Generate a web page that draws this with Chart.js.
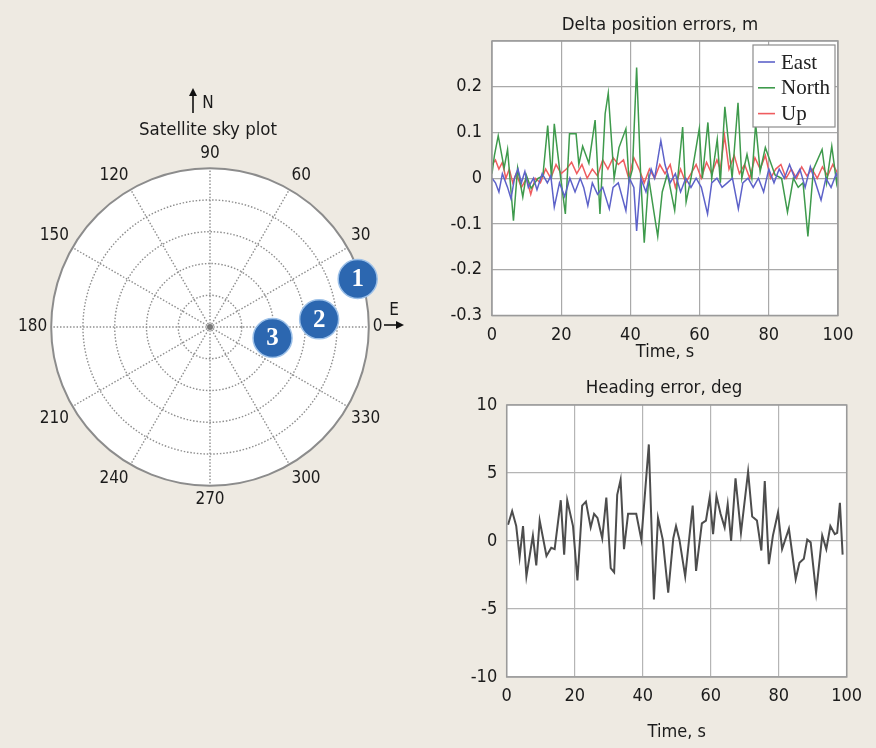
<!DOCTYPE html>
<html>
<head>
<meta charset="utf-8">
<script src="https://cdn.jsdelivr.net/npm/chart.js@4.4.1/dist/chart.umd.min.js"></script>
<style>
  html, body { margin: 0; padding: 0; background: #eeeae2; }
  body { width: 876px; height: 748px; position: relative; overflow: hidden; }
  .box { position: absolute; }
  #sky { left: 0; top: 0; width: 440px; height: 520px; }
  #delta { left: 440px; top: 0; width: 436px; height: 365px; }
  #heading { left: 440px; top: 365px; width: 436px; height: 383px; }
</style>
</head>
<body>
<div class="box" id="sky"><canvas id="skyCanvas"></canvas></div>
<div class="box" id="delta"><canvas id="deltaCanvas"></canvas></div>
<div class="box" id="heading"><canvas id="headingCanvas"></canvas></div>
<script>
// ---- sky plot ----
const azimuthTicks = [0, 30, 60, 90, 120, 150, 180, 210, 240, 270, 300, 330];
const satIds = ['1', '2', '3'];
const satAzimuth = [18, 4, 350];
const satZenith = [88, 62, 36];   // 0 = centre, 90 = outer ring

// ---- delta position errors, m ----
const eastTime = [0, 1, 2, 3, 4.5, 5.5, 6.5, 7.5, 8.5, 9.5, 10.5, 12, 13, 14.5, 16, 17, 18, 19.5, 21, 22.5, 24, 25.5, 26.5, 27.7, 29, 30.5, 32, 33.9, 35, 36.5, 38.7, 39.7, 41, 41.8, 43, 44.5, 46, 47, 48.8, 50, 51.5, 53, 54.5, 56, 57.5, 59, 60.5, 62.3, 63.5, 65, 66.5, 68, 69.5, 71.2, 72.5, 74, 75.5, 77, 78.5, 80, 81.5, 83, 84.5, 86, 87.5, 89, 90.5, 92, 93.5, 95.1, 96.5, 98, 99.5, 100];
const eastErr = [0, -0.01, -0.03, 0.01, -0.02, -0.045, 0, 0.02, -0.01, 0.015, -0.02, 0, -0.025, 0.01, -0.01, 0.005, -0.063, -0.01, -0.04, 0, -0.03, 0, -0.02, -0.06, -0.01, -0.035, -0.02, -0.067, -0.02, -0.01, -0.071, 0, -0.02, -0.115, 0, -0.03, 0.02, 0, 0.082, 0.03, -0.01, 0.01, -0.03, 0, -0.02, 0, -0.02, -0.078, -0.01, 0, -0.02, -0.01, 0, -0.067, -0.01, 0, -0.02, 0, -0.03, 0.02, -0.01, 0.02, 0, 0.03, 0, 0.02, -0.02, 0.025, -0.01, -0.048, 0, -0.02, 0.01, 0];
const northTime = [0, 0.7, 1.8, 3.5, 4.5, 6.2, 7.4, 8.9, 9.9, 11.3, 13.3, 14.7, 16.1, 17.2, 18, 19.6, 21.2, 22.4, 24.3, 25.1, 26.2, 28, 29.8, 31.2, 32.7, 33.6, 35.3, 36.7, 38.7, 39.6, 40.6, 41.8, 43, 44, 45.3, 46.8, 47.9, 49.2, 50.7, 52.8, 55.1, 56.1, 57.5, 59.9, 60.8, 62.4, 63.5, 65.1, 66, 67.3, 69.4, 71.1, 72.2, 73.7, 75.1, 76.2, 77.5, 79, 80.4, 81.8, 83.7, 85.4, 87.1, 88.5, 89.9, 91.3, 92.9, 95.4, 96.7, 98.2, 99.6, 100];
const northErr = [0.01, 0.05, 0.093, 0.022, 0.063, -0.093, 0.022, -0.041, 0.007, -0.022, 0, 0.005, 0.115, 0, 0.119, 0.015, -0.078, 0.097, 0.097, 0.03, 0.07, 0.033, 0.127, -0.078, 0.141, 0.186, 0, 0.067, 0.108, -0.007, 0.02, 0.242, 0, -0.141, 0, -0.074, -0.127, -0.03, 0.01, -0.07, 0.112, -0.052, 0, 0.108, 0, 0.122, 0, 0.085, -0.01, 0.156, 0, 0.165, 0, 0.052, 0, 0.119, 0.015, 0.067, 0.037, 0.007, 0, -0.074, 0, -0.02, -0.01, -0.127, 0.02, 0.063, -0.01, 0.07, -0.01, 0.01];
const upTime = [0, 1, 2, 3, 4, 5, 6, 7, 8.5, 10, 11.2, 12.5, 14, 15.5, 17, 18.5, 20, 21.5, 23, 24.5, 26, 27.5, 29, 30.5, 32, 33.5, 35, 36.5, 38, 39.5, 41, 42.5, 44, 45.5, 47, 48.5, 50, 51.5, 53, 54.5, 56, 57.5, 59, 60.5, 62, 63.5, 65, 66, 67.2, 68.5, 70, 71.5, 73, 74.5, 76, 77.5, 79, 80.5, 82, 83.5, 85, 86.5, 88, 89.5, 91, 92.5, 94, 95.5, 97, 98.5, 100];
const upErr = [0.03, 0.04, 0.02, 0.035, 0, 0.02, -0.01, 0.01, -0.02, 0, -0.035, 0, -0.01, 0.02, 0, 0.03, 0.01, 0.02, 0.035, 0.01, 0.03, 0, 0.02, 0.005, 0.04, 0.02, 0.045, 0.03, 0.04, 0, 0.045, 0.02, -0.01, 0.02, 0, 0.03, 0.01, 0.03, -0.02, 0.02, -0.01, 0.01, 0.03, 0, 0.035, 0.01, 0.04, 0.02, 0.093, 0.02, 0.05, 0.01, 0.03, 0, 0.045, 0.02, 0.05, 0, 0.02, 0.03, 0, 0.02, 0, 0.025, 0.005, 0.02, 0, 0.025, 0.005, 0.03, 0.01];

// ---- heading error, deg ----
const headingTime = [0.4, 1.6, 2.8, 3.8, 4.8, 5.8, 7.7, 8.7, 9.7, 11.7, 13.1, 14.1, 15.9, 16.9, 17.8, 19.5, 20.8, 22.2, 23.3, 24.7, 25.7, 26.7, 28.1, 29.3, 30.6, 31.6, 32.5, 33.5, 34.5, 35.7, 38.1, 39.6, 41.8, 43.3, 44.5, 45.9, 47.5, 49, 49.8, 50.8, 52.5, 54.7, 55.7, 57.4, 58.6, 59.7, 60.7, 61.7, 62.9, 64.1, 65, 66, 67.3, 68.9, 71, 72.2, 73.6, 74.9, 75.9, 77.1, 78.3, 79.8, 81, 83, 85, 86.1, 87.4, 88.4, 89.4, 91, 92.8, 94, 95.2, 96.5, 97.2, 98, 98.8];
const headingErr = [1.2, 2.2, 1.1, -1.2, 1.1, -2.6, 0.4, -1.8, 1.5, -1.1, -0.5, -0.6, 3, -1, 3, 1.1, -2.9, 2.6, 2.9, 1, 2, 1.7, 0.2, 3.2, -2, -2.3, 3.4, 4.5, -0.6, 2, 2, 0.1, 7.1, -4.3, 1.7, 0.1, -3.8, 0.2, 1.1, 0.1, -2.6, 2.6, -2.2, 1.3, 1.5, 3.2, 0.5, 3.3, 2, 1, 2.7, 0, 4.6, 0.6, 5.1, 1.8, 1.5, -0.7, 4.4, -1.7, 0.4, 2.1, -0.6, 0.9, -2.8, -1.6, -1.3, 0.1, -0.1, -3.8, 0.4, -0.6, 1.1, 0.5, 0.6, 2.8, -1];

const FONT = "'DejaVu Sans Condensed', 'Liberation Sans Narrow', 'Roboto Condensed', 'DejaVu Sans', sans-serif";
Chart.defaults.font.family = FONT;
Chart.defaults.font.size = 18;
Chart.defaults.color = '#1b1b1b';
Chart.defaults.responsive = true;
Chart.defaults.maintainAspectRatio = false;
Chart.defaults.animation = false;

const toPoints = (xs, ys) => xs.map((x, i) => ({ x: x, y: ys[i] }));

// white plot area + grey frame
const plotFrame = {
    id: 'plotFrame',
    beforeDraw(chart) {
        const { ctx, chartArea: a } = chart;
        ctx.save();
        ctx.fillStyle = '#ffffff';
        ctx.fillRect(a.left, a.top, a.width, a.height);
        ctx.restore();
    },
    afterDraw(chart) {
        const { ctx, chartArea: a } = chart;
        ctx.save();
        ctx.strokeStyle = '#9a9a9a';
        ctx.lineWidth = 1.5;
        ctx.strokeRect(a.left, a.top, a.width, a.height);
        ctx.restore();
    }
};

// plot title centred over the figure panel rather than the plot box
const panelTitle = {
    id: 'panelTitle',
    afterDraw(chart, args, opts) {
        const { ctx } = chart;
        ctx.save();
        ctx.font = '18.5px ' + FONT;
        ctx.fillStyle = '#1b1b1b';
        ctx.textAlign = 'center';
        ctx.textBaseline = 'middle';
        ctx.fillText(opts.text, opts.x, opts.y);
        ctx.restore();
    }
};

// matlab-like legend box in the upper right corner of the plot
const boxLegend = {
    id: 'boxLegend',
    afterDatasetsDraw(chart) {
        const { ctx, chartArea: a } = chart;
        const w = 82, h = 82;
        const x0 = a.right - 3 - w, y0 = a.top + 4;
        ctx.save();
        ctx.fillStyle = '#ffffff';
        ctx.fillRect(x0, y0, w, h);
        ctx.strokeStyle = '#8c8c8c';
        ctx.lineWidth = 1.2;
        ctx.strokeRect(x0, y0, w, h);
        ctx.font = "21px 'Liberation Serif', 'DejaVu Serif', serif";
        ctx.textBaseline = 'middle';
        chart.data.datasets.forEach((ds, i) => {
            const y = y0 + 17 + i * 25.8;
            ctx.strokeStyle = ds.borderColor;
            ctx.lineWidth = 1.6;
            ctx.beginPath();
            ctx.moveTo(x0 + 5, y);
            ctx.lineTo(x0 + 22, y);
            ctx.stroke();
            ctx.fillStyle = '#222';
            ctx.fillText(ds.label, x0 + 28, y + 1);
        });
        ctx.restore();
    }
};

// title, centre dot, N / E arrows and satellite numbers
const skyDecor = {
    id: 'skyDecor',
    afterDatasetsDraw(chart) {
        const { ctx } = chart;
        const r = chart.scales.r;
        const cx = r.xCenter, cy = r.yCenter;
        ctx.save();
        ctx.fillStyle = '#777';
        ctx.beginPath();
        ctx.arc(cx, cy, 3, 0, Math.PI * 2);
        ctx.fill();

        ctx.fillStyle = '#ffffff';
        ctx.font = "bold 25px 'Liberation Serif', 'DejaVu Serif', serif";
        ctx.textAlign = 'center';
        ctx.textBaseline = 'middle';
        const meta = chart.getDatasetMeta(0);
        meta.data.forEach((pt, i) => {
            if (pt.skip || skyIdAt[i] === undefined) return;
            ctx.fillText(skyIdAt[i], pt.x, pt.y + 1);
        });

        // arrows
        ctx.strokeStyle = '#111';
        ctx.fillStyle = '#111';
        ctx.lineWidth = 1.6;
        const ax = cx - 17;
        ctx.beginPath(); ctx.moveTo(ax, 113); ctx.lineTo(ax, 93); ctx.stroke();
        ctx.beginPath(); ctx.moveTo(ax, 88); ctx.lineTo(ax - 4, 96); ctx.lineTo(ax + 4, 96); ctx.closePath(); ctx.fill();
        const ey = cy - 2;
        ctx.beginPath(); ctx.moveTo(cx + 174, ey); ctx.lineTo(cx + 188, ey); ctx.stroke();
        ctx.beginPath(); ctx.moveTo(cx + 194, ey); ctx.lineTo(cx + 186, ey - 4); ctx.lineTo(cx + 186, ey + 4); ctx.closePath(); ctx.fill();
        ctx.fillStyle = '#1b1b1b';
        ctx.font = '17px ' + FONT;
        ctx.fillText('N', cx - 2, 104);
        ctx.fillText('E', cx + 184, cy - 16);
        ctx.font = '18.5px ' + FONT;
        ctx.fillText('Satellite sky plot', cx - 2, 130);
        ctx.restore();
    }
};

// radar labels: one per degree, index 0 at the top (90 deg), clockwise
const skyLabels = Array.from({ length: 360 }, (_, i) => (450 - i) % 360);
const skyData = skyLabels.map(() => null);
const skyIdAt = {};
satAzimuth.forEach((az, k) => {
    const idx = (450 - Math.round(az)) % 360;
    skyData[idx] = satZenith[k];
    skyIdAt[idx] = satIds[k];
});

new Chart(document.getElementById('skyCanvas'), {
    type: 'radar',
    data: {
        labels: skyLabels,
        datasets: [{
            label: 'Satellites',
            data: skyData,
            showLine: false,
            fill: false,
            borderWidth: 0,
            pointRadius: 19.5,
            pointBackgroundColor: '#2c67b0',
            pointBorderColor: '#9cc0e8',
            pointBorderWidth: 1.5
        }]
    },
    options: {
        layout: { padding: { left: 9, right: 47, top: 135.5, bottom: 0.5 } },
        plugins: {
            legend: { display: false },
            tooltip: { enabled: false },
            title: { display: false }
        },
        scales: {
            r: {
                min: 0,
                max: 90,
                backgroundColor: '#ffffff',
                ticks: { stepSize: 18, display: false },
                grid: {
                    circular: true,
                    color: ctx => ctx.tick.value === 90 ? '#8c8c8c' : '#8e8e8e',
                    lineWidth: ctx => ctx.tick.value === 90 ? 2 : 1.4
                },
                border: { dash: ctx => (ctx.tick && ctx.tick.value === 90) ? [] : [1.5, 1.8] },
                angleLines: {
                    color: '#8e8e8e',
                    lineWidth: ctx => ctx.label ? 1.4 : 0,
                    borderDash: [1.5, 1.8]
                },
                pointLabels: {
                    padding: 4,
                    font: { size: 17 },
                    color: '#1b1b1b',
                    callback: label => azimuthTicks.includes(label) ? String(label) : ''
                }
            }
        }
    },
    plugins: [skyDecor]
});

const axisStyle = (gridColor) => ({
    type: 'linear',
    grid: { color: gridColor, lineWidth: 1.2, drawTicks: false },
    border: { display: false }
});

new Chart(document.getElementById('deltaCanvas'), {
    type: 'line',
    data: {
        datasets: [
            { label: 'East', data: toPoints(eastTime, eastErr), borderColor: '#5d62c9', borderWidth: 1.5, pointRadius: 0, tension: 0 },
            { label: 'North', data: toPoints(northTime, northErr), borderColor: '#3e9a4c', borderWidth: 1.5, pointRadius: 0, tension: 0 },
            { label: 'Up', data: toPoints(upTime, upErr), borderColor: '#ef5c5f', borderWidth: 1.5, pointRadius: 0, tension: 0 }
        ]
    },
    options: {
        layout: { padding: { left: 0, right: 38, top: 41, bottom: 0 } },
        plugins: {
            legend: { display: false },
            tooltip: { enabled: false },
            title: { display: false },
            panelTitle: { text: 'Delta position errors, m', x: 220, y: 25 }
        },
        scales: {
            x: {
                ...axisStyle('#a9a9a9'),
                min: 0, max: 100,
                ticks: { stepSize: 20, padding: 11, font: { size: 18, lineHeight: 1 } },
                title: { display: true, text: 'Time, s', font: { size: 18, lineHeight: 1 }, padding: { top: 0, bottom: 4 } },
                afterFit: s => { s.height = 49.5; }
            },
            y: {
                ...axisStyle('#a9a9a9'),
                min: -0.3, max: 0.3,
                ticks: {
                    stepSize: 0.1, padding: 10, font: { size: 18, lineHeight: 1 },
                    callback: v => Math.abs(v - 0.3) < 1e-6 ? '' : (Math.abs(v) < 1e-9 ? '0' : v.toFixed(1))
                },
                afterFit: s => { s.width = 52; }
            }
        }
    },
    plugins: [plotFrame, boxLegend, panelTitle]
});

new Chart(document.getElementById('headingCanvas'), {
    type: 'line',
    data: {
        datasets: [
            { label: 'Heading', data: toPoints(headingTime, headingErr), borderColor: '#4d4d4d', borderWidth: 2, pointRadius: 0, tension: 0 }
        ]
    },
    options: {
        layout: { padding: { left: 0, right: 29.3, top: 40, bottom: 0 } },
        plugins: {
            legend: { display: false },
            tooltip: { enabled: false },
            title: { display: false },
            panelTitle: { text: 'Heading error, deg', x: 224, y: 23.5 }
        },
        scales: {
            x: {
                ...axisStyle('#b5b5b5'),
                min: 0, max: 100,
                ticks: { stepSize: 20, padding: 10, font: { size: 18, lineHeight: 1 } },
                title: { display: true, text: 'Time, s', font: { size: 18, lineHeight: 1 }, padding: { top: 0, bottom: 7 } },
                afterFit: s => { s.height = 71; }
            },
            y: {
                ...axisStyle('#b5b5b5'),
                min: -10, max: 10,
                ticks: { stepSize: 5, padding: 9.5, font: { size: 18, lineHeight: 1 } },
                afterFit: s => { s.width = 66.7; }
            }
        }
    },
    plugins: [plotFrame, panelTitle]
});
</script>
</body>
</html>
